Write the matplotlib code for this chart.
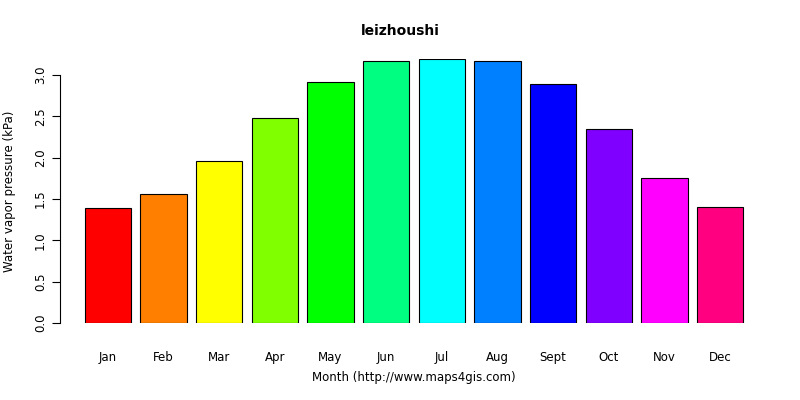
import matplotlib
matplotlib.use("Agg")
import matplotlib.pyplot as plt

months = ["Jan","Feb","Mar","Apr","May","Jun","Jul","Aug","Sept","Oct","Nov","Dec"]
values = [1.39,1.56,1.96,2.48,2.92,3.17,3.19,3.17,2.89,2.35,1.75,1.40]
colors = ["#FF0000","#FF8000","#FFFF00","#80FF00","#00FF00","#00FF80",
          "#00FFFF","#0080FF","#0000FF","#8000FF","#FF00FF","#FF0080"]

W, H = 800, 400
fig = plt.figure(figsize=(8, 4), dpi=100)
ax = fig.add_axes([60/W, 1-323/H, (768-60)/W, (323-58.5)/H])
x = [0.7 + 1.2*i for i in range(len(months))]
ax.bar(x, values, width=1.0, color=colors, edgecolor="black", linewidth=0.8)
ax.set_xlim(-0.335, 14.935)
ax.set_ylim(0, 3.2)
for s in ["top", "right", "bottom"]:
    ax.spines[s].set_visible(False)
ax.spines["left"].set_bounds(0, 3.0)
ax.spines["left"].set_position(("outward", 0))
ax.set_yticks([0, 0.5, 1.0, 1.5, 2.0, 2.5, 3.0])
ax.set_yticklabels(["0.0","0.5","1.0","1.5","2.0","2.5","3.0"], rotation=90, va="center", fontsize=8.5)
ax.tick_params(axis="y", length=6)
ax.set_xticks(x)
ax.set_xticklabels(months, fontsize=8.5)
ax.tick_params(axis="x", length=0, pad=20)
fig.text(0.5, 1-31/H, "leizhoushi", ha="center", va="center", fontsize=10, fontweight="bold")
fig.text(414/W, 1-378/H, "Month (http://www.maps4gis.com)", ha="center", va="center", fontsize=8.5)
fig.text(10/W, 1-191/H, "Water vapor pressure (kPa)", ha="center", va="center", rotation=90, fontsize=8.5)
fig.savefig("out.png", dpi=100)
